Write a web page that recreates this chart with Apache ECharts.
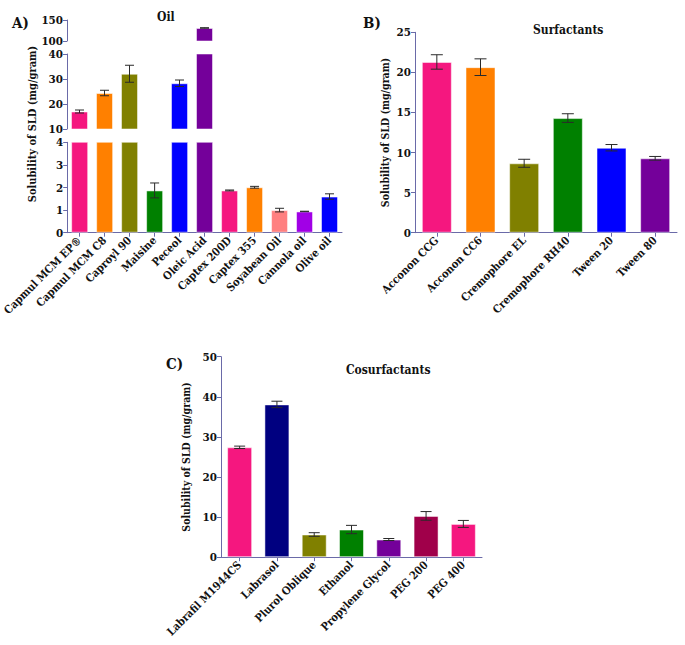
<!DOCTYPE html>
<html>
<head>
<meta charset="utf-8">
<script src="https://cdn.jsdelivr.net/npm/echarts@6/dist/echarts.min.js"></script>
<style>html,body{margin:0;padding:0;background:#fff}#c{width:685px;height:645px}</style>
</head>
<body>
<div id="c"></div>
<script>
// ---- data ----
var oilCategories = ['Capmul MCM EP®', 'Capmul MCM C8', 'Caproyl 90', 'Maisine', 'Peceol', 'Oleic Acid', 'Captex 200D', 'Captex 355', 'Soyabean Oil', 'Cannola oil', 'Olive oil'];
var oilValues = [17.0, 24.4, 32.1, 1.87, 28.3, 131, 1.87, 2.01, 1.0, 0.94, 1.6];
var oilErrors = [0.6, 1.1, 3.4, 0.33, 1.3, 0.6, 0.02, 0.04, 0.08, 0.01, 0.12];
var oilTicksBottom = [0, 4, 1];   // min, max, interval
var oilTicksMiddle = [10, 40, 10];
var oilTicksTop = [100, 150, 50];

var surfCategories = ['Acconon CCG', 'Acconon CC6', 'Cremophore EL', 'Cremophore RH40', 'Tween 20', 'Tween 80'];
var surfValues = [21.3, 20.65, 8.66, 14.3, 10.6, 9.28];
var surfErrors = [0.9, 1.04, 0.5, 0.54, 0.4, 0.23];
var surfTicks = [0, 25, 5];

var cosCategories = ['Labrafil M1944CS', 'Labrasol', 'Plurol Oblique', 'Ethanol', 'Propylene Glycol', 'PEG 200', 'PEG 400'];
var cosValues = [27.4, 38.1, 5.66, 6.9, 4.41, 10.3, 8.3];
var cosErrors = [0.3, 0.8, 0.45, 1.04, 0.25, 1.08, 0.87];
var cosTicks = [0, 50, 10];

// ---- styles ----
var oilColors = ['#f5177f', '#ff8000', '#808000', '#008000', '#0000ff', '#74009a', '#f5177f', '#ff8000', '#ff8080', '#a100e6', '#0000ff'];
var surfColors = ['#f5177f', '#ff8000', '#808000', '#008000', '#0000ff', '#74009a'];
var cosColors = ['#f5177f', '#000080', '#808000', '#008000', '#74009a', '#a0004a', '#f5177f'];
var AXIS = '#6a6aa8';
var FONT = 'DejaVu Serif Condensed';

function valAxis(gi, t, extra) {
  var a = {
    type: 'value', gridIndex: gi, min: t[0], max: t[1], interval: t[2],
    axisLine: {show: true, lineStyle: {color: AXIS, width: 1}},
    axisTick: {show: true, length: 4, lineStyle: {color: AXIS}},
    splitLine: {show: false},
    axisLabel: {color: '#111', fontFamily: FONT, fontWeight: 'bold', fontSize: 11.5, margin: 4}
  };
  for (var k in extra) a[k] = extra[k];
  return a;
}
function catAxis(gi, cats, show) {
  return {
    type: 'category', gridIndex: gi, data: cats, show: show,
    axisLine: {show: true, lineStyle: {color: AXIS, width: 1}},
    axisTick: {show: true, alignWithLabel: true, length: 4, lineStyle: {color: AXIS}},
    axisLabel: {rotate: 45, color: '#111', fontFamily: FONT, fontWeight: 'bold', fontSize: 11, margin: 6, interval: 0}
  };
}
function barSeries(gi, vals, colors, w) {
  return {
    type: 'bar', xAxisIndex: gi, yAxisIndex: gi, data: vals, barWidth: w, clip: true,
    itemStyle: {color: function (p) { return colors[p.dataIndex]; }, borderColor: 'rgba(255,255,255,0.5)', borderWidth: 1},
    emphasis: {disabled: true}
  };
}
function errSeries(gi, vals, errs, cap) {
  return {
    type: 'custom', xAxisIndex: gi, yAxisIndex: gi, clip: true, z: 5,
    data: vals.map(function (v, i) { return [i, v, errs[i]]; }),
    renderItem: function (params, api) {
      var x = api.value(0), v = api.value(1), e = api.value(2);
      var lo = api.coord([x, v - e]), hi = api.coord([x, v + e]);
      var h = cap / 2, st = {stroke: '#2a2a2a', lineWidth: 1};
      return {type: 'group', children: [
        {type: 'line', shape: {x1: lo[0], y1: lo[1], x2: hi[0], y2: hi[1]}, style: st},
        {type: 'line', shape: {x1: lo[0] - h, y1: lo[1], x2: lo[0] + h, y2: lo[1]}, style: st},
        {type: 'line', shape: {x1: hi[0] - h, y1: hi[1], x2: hi[0] + h, y2: hi[1]}, style: st}
      ]};
    }
  };
}
function label(text, x, y, size, extra) {
  var s = {text: text, x: x, y: y, fill: '#111', font: 'bold ' + size + 'px "' + FONT + '"', textAlign: 'left', textVerticalAlign: 'top'};
  var g = {type: 'text', style: s, silent: true};
  for (var k in extra) g[k] = extra[k];
  return g;
}

var yName = 'Solubility of SLD (mg/gram)';
var nameStyle = {color: '#111', fontFamily: FONT, fontWeight: 'bold', fontSize: 10.5};

var option = {
  animation: false,
  backgroundColor: '#fff',
  grid: [
    {left: 67, width: 275, top: 142.3, height: 90.4},  // A bottom
    {left: 67, width: 275, top: 54, height: 75},       // A middle
    {left: 67, width: 275, top: 20, height: 21},       // A top
    {left: 415, width: 262, top: 32.3, height: 200.4}, // B
    {left: 221, width: 261, top: 356.7, height: 200.5} // C
  ],
  xAxis: [
    catAxis(0, oilCategories, true),
    catAxis(1, oilCategories, false),
    catAxis(2, oilCategories, false),
    catAxis(3, surfCategories, true),
    catAxis(4, cosCategories, true)
  ],
  yAxis: [
    valAxis(0, oilTicksBottom),
    valAxis(1, oilTicksMiddle),
    valAxis(2, oilTicksTop),
    valAxis(3, surfTicks, {name: yName, nameLocation: 'middle', nameGap: 25, nameTextStyle: nameStyle}),
    valAxis(4, cosTicks, {name: yName, nameLocation: 'middle', nameGap: 30, nameTextStyle: nameStyle})
  ],
  series: [
    barSeries(0, oilValues, oilColors, 17), errSeries(0, oilValues, oilErrors, 9),
    barSeries(1, oilValues, oilColors, 17), errSeries(1, oilValues, oilErrors, 9),
    barSeries(2, oilValues, oilColors, 17), errSeries(2, oilValues, oilErrors, 9),
    barSeries(3, surfValues, surfColors, 30), errSeries(3, surfValues, surfErrors, 12),
    barSeries(4, cosValues, cosColors, 25), errSeries(4, cosValues, cosErrors, 11)
  ],
  graphic: [
    label('A)', 12, 15, 15),
    label('B)', 363, 15, 15),
    label('C)', 166, 356, 15),
    label('Oil', 157, 11, 12),
    label('Surfactants', 533, 24, 12),
    label('Cosurfactants', 346, 364, 12),
    {type: 'text', x: 32, y: 124, rotation: Math.PI / 2, silent: true,
     style: {text: yName, fill: '#111', font: 'bold 11px "' + FONT + '"', textAlign: 'center', textVerticalAlign: 'middle'}}
  ]
};

var chart = echarts.init(document.getElementById('c'), null, {renderer: 'svg'});
chart.setOption(option);
</script>
</body>
</html>
